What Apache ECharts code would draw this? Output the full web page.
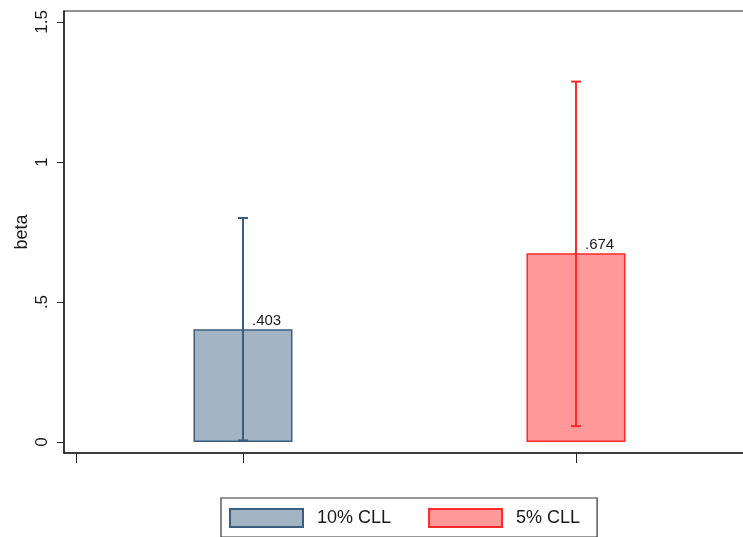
<!DOCTYPE html>
<html>
<head>
<meta charset="utf-8">
<script src="https://cdn.jsdelivr.net/npm/echarts@6/dist/echarts.min.js"></script>
<style>
  html, body { margin: 0; padding: 0; background: #fff; }
  #chart { width: 743px; height: 537px; }
</style>
</head>
<body>
<div id="chart"></div>
<script>
// data
const categories = ['10% CLL', '5% CLL'];
const xPositions = [1, 2];
const betas = [0.403, 0.674];
const ciLow = [0.006, 0.057];
const ciHigh = [0.800, 1.287];
const valueLabels = ['.403', '.674'];
const yTicks = [0, 0.5, 1, 1.5];
const yTickLabels = ['0', '.5', '1', '1.5'];
const xTicks = [0.5, 1, 2];

const fillColors = ['#a3b4c4', '#ff9999'];
const lineColors = ['#3a5d80', '#ff2a2a'];
const font = '"Liberation Sans", Arial, sans-serif';

const chart = echarts.init(document.getElementById('chart'));

const barSeries = categories.map((name, i) => ({
  name: name,
  type: 'bar',
  barWidth: 99,
  barGap: '-100%',
  data: [[xPositions[i], betas[i]]],
  itemStyle: {
    color: fillColors[i],
    borderColor: lineColors[i],
    borderWidth: 1.5,
  },
  z: 2,
}));

const errorSeries = {
  name: 'ci',
  type: 'custom',
  z: 5,
  data: xPositions.map((x, i) => [x, ciLow[i], ciHigh[i], betas[i]]),
  renderItem: function (params, api) {
    const i = params.dataIndex;
    const lo = api.coord([api.value(0), api.value(1)]);
    const hi = api.coord([api.value(0), api.value(2)]);
    const top = api.coord([api.value(0), api.value(3)]);
    const style = { stroke: lineColors[i], lineWidth: 2 };
    const cap = 5;
    return {
      type: 'group',
      children: [
        { type: 'line', shape: { x1: lo[0], y1: lo[1], x2: hi[0], y2: hi[1] }, style: style },
        { type: 'line', shape: { x1: lo[0] - cap, y1: lo[1], x2: lo[0] + cap, y2: lo[1] }, style: style },
        { type: 'line', shape: { x1: hi[0] - cap, y1: hi[1], x2: hi[0] + cap, y2: hi[1] }, style: style },
        {
          type: 'text',
          x: top[0] + 9,
          y: top[1] - 1,
          style: {
            text: valueLabels[i],
            fill: '#1a1a1a',
            font: '15px ' + font,
            textAlign: 'left',
            textVerticalAlign: 'bottom',
          },
        },
      ],
    };
  },
};

const option = {
  animation: false,
  backgroundColor: '#ffffff',
  textStyle: { fontFamily: font },
  grid: {
    left: 64,
    top: 11,
    width: 696,
    bottom: 84,
    outerBoundsMode: 'none',
    containLabel: false,
    show: true,
    borderColor: '#222',
    borderWidth: 1.2,
    backgroundColor: 'transparent',
  },
  legend: {
    data: categories,
    left: 221,
    top: 498,
    orient: 'horizontal',
    icon: 'rect',
    itemWidth: 73,
    itemHeight: 18,
    itemGap: 37,
    padding: [10, 17, 9, 8],
    borderColor: '#333',
    borderWidth: 1.2,
    textStyle: { fontSize: 18, color: '#1a1a1a', padding: [0, 0, 0, 9], fontFamily: font },
  },
  xAxis: {
    type: 'value',
    min: 0.4625,
    max: 2.5526,
    axisLine: { onZero: false, lineStyle: { color: '#222', width: 1.5 } },
    axisTick: { show: true, length: 10, customValues: xTicks, lineStyle: { color: '#222', width: 1 } },
    axisLabel: { show: false },
    splitLine: { show: false },
  },
  yAxis: {
    type: 'value',
    min: -0.039,
    max: 1.539,
    name: 'beta',
    nameLocation: 'middle',
    nameGap: 33,
    nameMoveOverlap: false,
    nameTextStyle: { fontSize: 18, color: '#1a1a1a', fontFamily: font },
    axisLine: { show: true, lineStyle: { color: '#222', width: 1.5 } },
    axisTick: { show: true, length: 7, customValues: yTicks, lineStyle: { color: '#222', width: 1 } },
    axisLabel: {
      rotate: 90,
      margin: 13,
      fontSize: 17,
      color: '#1a1a1a',
      customValues: yTicks,
      formatter: function (v) {
        const k = yTicks.findIndex((t) => Math.abs(t - v) < 1e-9);
        return k >= 0 ? yTickLabels[k] : '';
      },
    },
    splitLine: { show: false },
  },
  series: [...barSeries, errorSeries],
};

chart.setOption(option);
</script>
</body>
</html>
